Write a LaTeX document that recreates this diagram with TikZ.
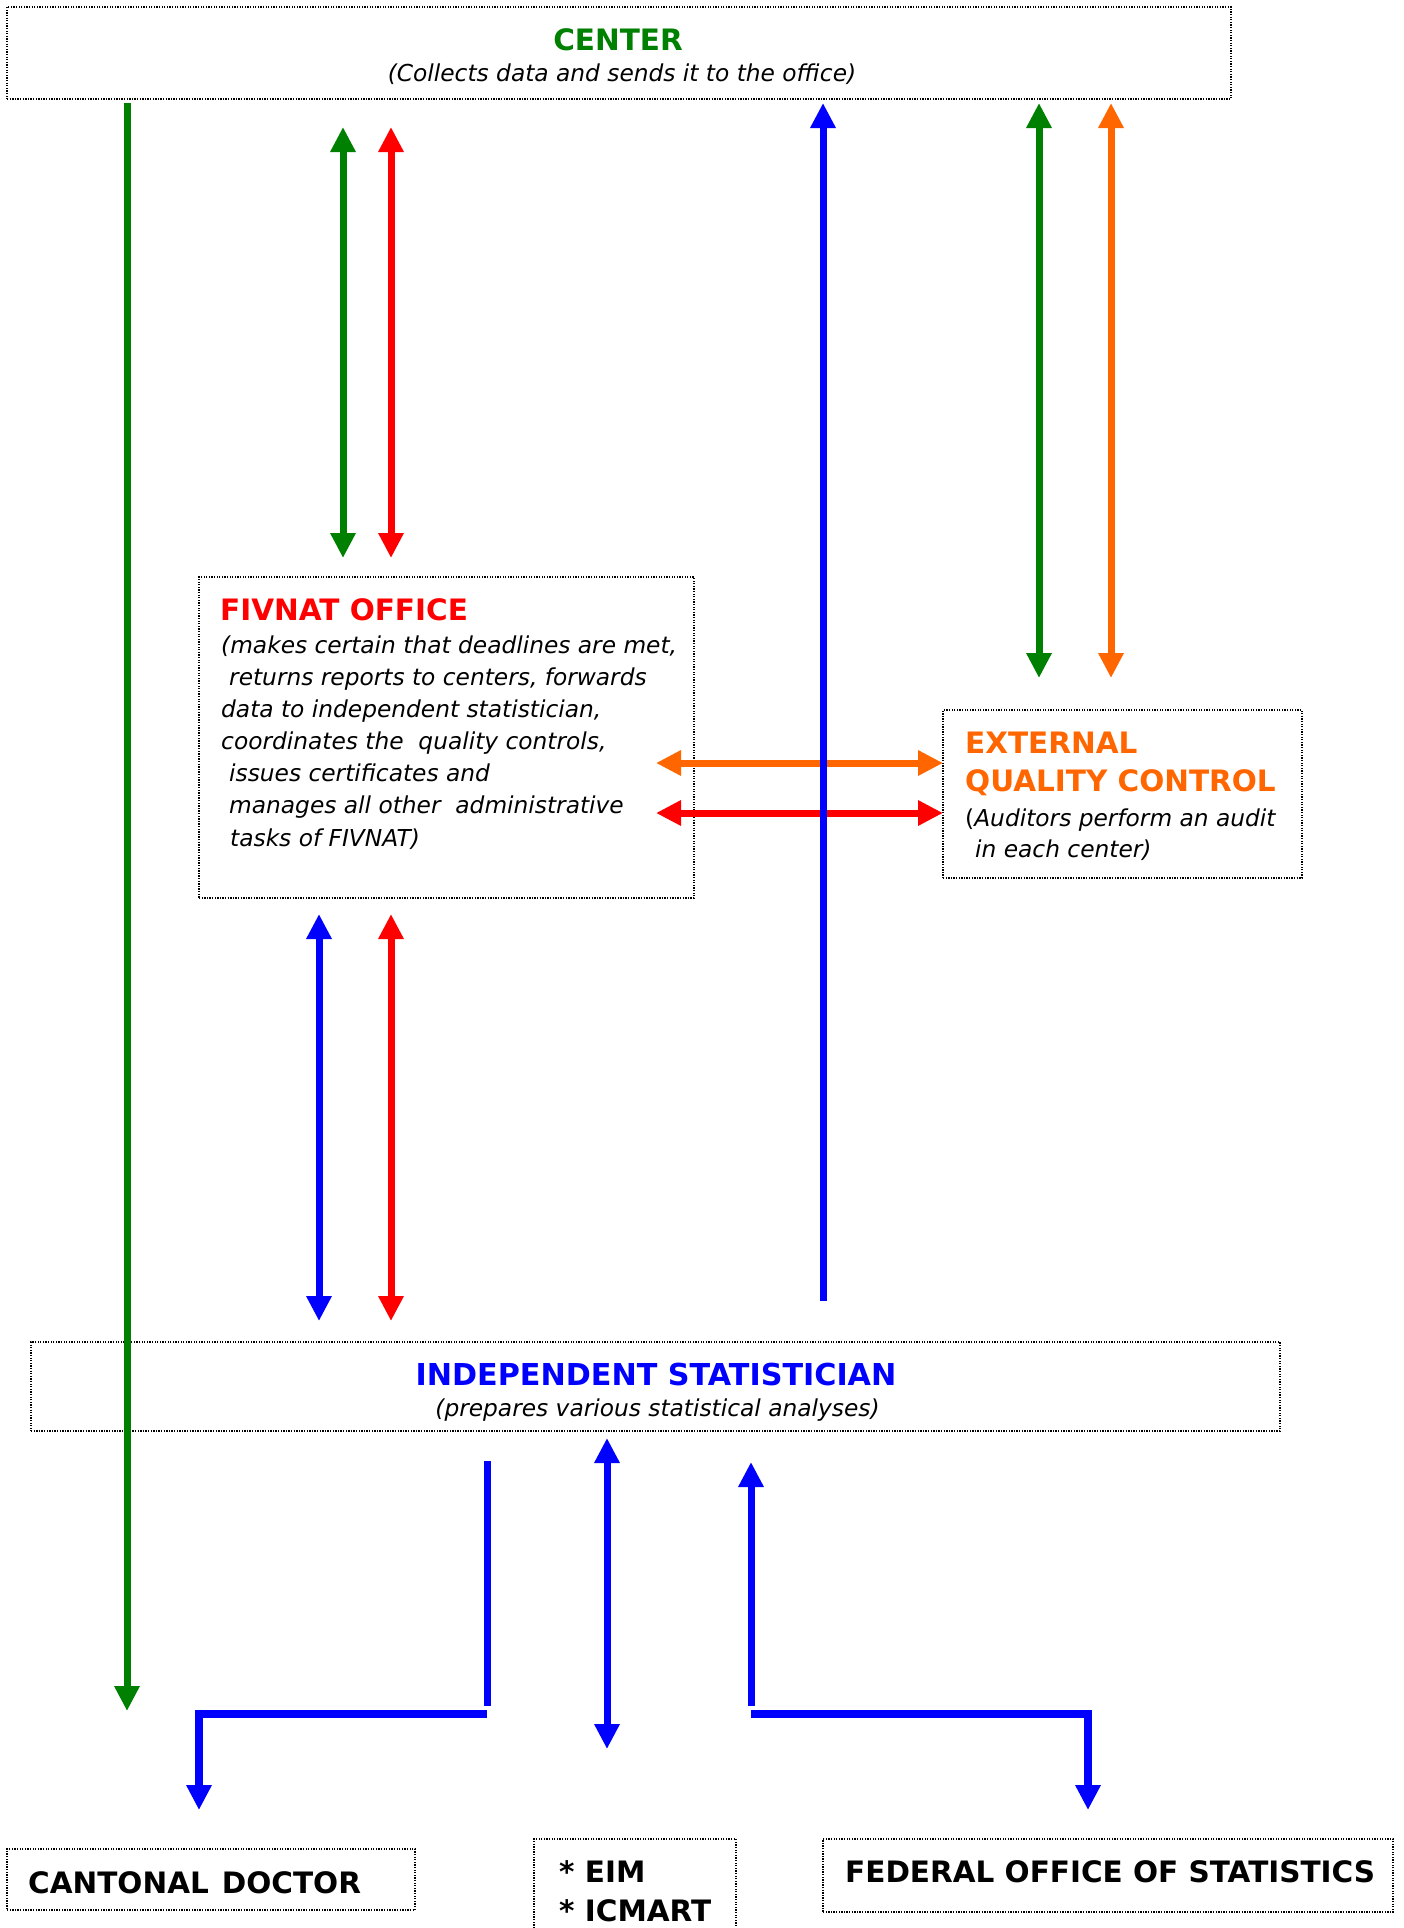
\documentclass[tikz,border=0pt]{standalone}
\usepackage{fontspec}
\setmainfont{DejaVu Sans}
\usetikzlibrary{arrows.meta}
\definecolor{cgreen}{RGB}{0,128,0}
\definecolor{cred}{RGB}{255,0,0}
\definecolor{cblue}{RGB}{0,0,255}
\definecolor{corange}{RGB}{255,102,0}
\tikzset{
  box/.style={draw=black, line width=1.3pt, dash pattern=on 1.3pt off 1.3pt, inner sep=0pt},
  ttl/.style={inner sep=0pt, font=\fontsize{29.5}{35}\selectfont\bfseries},
  sub/.style={inner sep=0pt, font=\fontsize{23.3}{32}\selectfont\itshape},
  ln/.style={inner sep=0pt, anchor=base west, font=\fontsize{23.3}{32}\selectfont\itshape},
  tipA/.tip={Triangle[length=25pt,width=24pt]},
  one/.style={line width=7pt, -tipA},
  two/.style={line width=7pt, tipA-tipA},
  bar/.style={line width=7.5pt, -tipA},
  plain/.style={line width=7pt}
}
\begin{document}
\begin{tikzpicture}[x=1pt,y=-1pt]
\useasboundingbox (0,0) rectangle (1404,1928);
% boxes
\node[box, minimum width=1224pt, minimum height=92pt] (ctr) at (619,53) {};
\node[box, minimum width=495pt, minimum height=321pt] (fiv) at (446.5,737.5) {};
\node[box, minimum width=359pt, minimum height=168pt] (ext) at (1122.5,794) {};
\node[box, minimum width=1249pt, minimum height=89pt] (ind) at (655.5,1386.5) {};
\node[box, minimum width=408pt, minimum height=61pt] (can) at (211,1879.5) {};
\node[box, minimum width=202pt, minimum height=101pt] (eim) at (635,1889.5) {};
\node[box, minimum width=570pt, minimum height=73pt] (fed) at (1108,1875.5) {};
% texts
\node[ttl, anchor=base, text=cgreen] (ctrT) at (618,50) {CENTER};
\node[sub, anchor=base] (ctrS) at (622,81) {(Collects data and sends it to the office)};
\node[ttl, anchor=base west, text=cred] (fivT) at (220,620) {FIVNAT OFFICE};
\node[ln] (f1) at (221,653) {(makes certain that deadlines are met,};
\node[ln] (f2) at (229,685) {returns reports to centers, forwards};
\node[ln] (f3) at (221,717) {data to independent statistician,};
\node[ln] (f4) at (221,749) {coordinates the\ \ quality controls,};
\node[ln] (f5) at (229,781) {issues certificates and};
\node[ln] (f6) at (229,813) {manages all other\ \ administrative};
\node[ln] (f7) at (230,846) {tasks of FIVNAT)};
\node[ttl, anchor=base west, text=corange] (extT1) at (965,753) {EXTERNAL};
\node[ttl, anchor=base west, text=corange] (extT2) at (965,791) {QUALITY CONTROL};
\node[ln] (e1) at (965,826) {\upshape(\itshape Auditors perform an audit};
\node[ln] (e2) at (975,857) {in each center)};
\node[ttl, anchor=base, text=cblue, font=\fontsize{30.2}{35}\selectfont\bfseries] (indT) at (656,1385) {INDEPENDENT STATISTICIAN};
\node[sub, anchor=base] (indS) at (657.5,1416) {(prepares various statistical analyses)};
\node[ttl, anchor=base west] (canT) at (28,1893) {CANTONAL\hspace{13pt}DOCTOR};
\node[ttl, anchor=base west] (eimT1) at (559,1882) {* EIM};
\node[ttl, anchor=base west] (eimT2) at (559,1921) {* ICMART};
\node[ttl, anchor=base west] (fedT) at (845,1882) {FEDERAL OFFICE OF STATISTICS};
% connector ends
\coordinate (g1a) at (127,103);   \coordinate (g1b) at (127,1711);
\coordinate (g2a) at (343,127);   \coordinate (g2b) at (343,558);
\coordinate (r1a) at (391,127);   \coordinate (r1b) at (391,558);
\coordinate (b1a) at (823,1301);  \coordinate (b1b) at (823,103);
\coordinate (g3a) at (1039,103);  \coordinate (g3b) at (1039,678);
\coordinate (o1a) at (1111,103);  \coordinate (o1b) at (1111,678);
\coordinate (o2a) at (656,763);   \coordinate (o2b) at (943,763);
\coordinate (r2a) at (656,813);   \coordinate (r2b) at (943,813);
\coordinate (b2a) at (319,914);   \coordinate (b2b) at (319,1321);
\coordinate (r3a) at (391,914);   \coordinate (r3b) at (391,1321);
\coordinate (lva) at (487,1461);  \coordinate (lvb) at (487,1706);
\coordinate (lba) at (487,1714);  \coordinate (lbc) at (199,1714);  \coordinate (lbe) at (199,1810);
\coordinate (mda) at (607,1438);  \coordinate (mdb) at (607,1749);
\coordinate (rva) at (751,1706);  \coordinate (rvb) at (751,1462);
\coordinate (rba) at (751,1714);  \coordinate (rbc) at (1088,1714); \coordinate (rbe) at (1088,1810);
% connectors
\draw[one, cgreen] (g1a) -- (g1b);
\draw[two, cgreen] (g2a) -- (g2b);
\draw[two, cred] (r1a) -- (r1b);
\draw[two, cgreen] (g3a) -- (g3b);
\draw[two, corange] (o1a) -- (o1b);
\draw[two, corange] (o2a) -- (o2b);
\draw[two, cred] (r2a) -- (r2b);
\draw[one, cblue] (b1a) -- (b1b);
\draw[two, cblue] (b2a) -- (b2b);
\draw[two, cred] (r3a) -- (r3b);
\draw[plain, cblue] (lva) -- (lvb);
\draw[bar, cblue] (lba) -- (lbc) -- (lbe);
\draw[two, cblue] (mda) -- (mdb);
\draw[one, cblue] (rva) -- (rvb);
\draw[bar, cblue] (rba) -- (rbc) -- (rbe);
\end{tikzpicture}
\end{document}
